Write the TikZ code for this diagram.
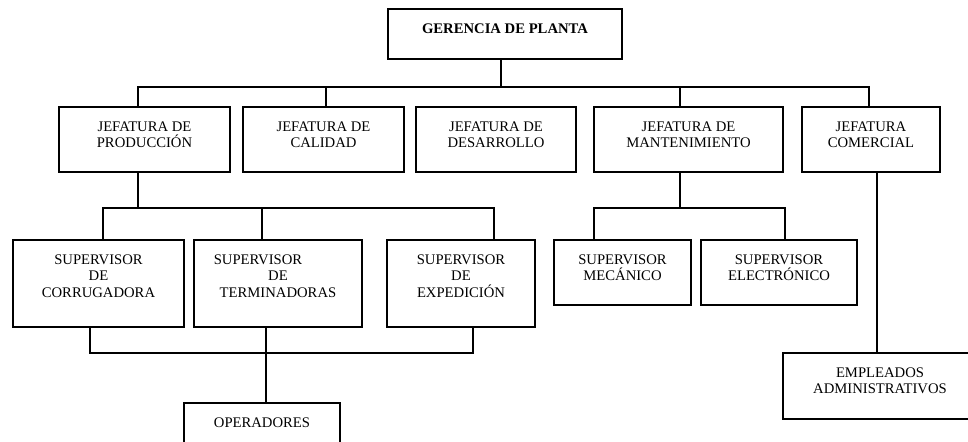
\documentclass[tikz,border=0pt]{standalone}
\usepackage{fontspec}
\setmainfont{Liberation Serif}
\begin{document}
\begin{tikzpicture}[x=0.75pt, y=-0.75pt, line join=miter, font=\fontsize{11}{12.5}\selectfont,
	caja/.style={draw, line width=0.9pt, inner sep=0pt, align=center},
	linea/.style={line width=0.9pt}]

	% Marco de la figura (968 x 442 px)
	\useasboundingbox (0,0) rectangle (968,442);
	\clip (0,0) rectangle (968,442);

	% Gerencia
	\node[caja, font=\fontsize{11}{12.5}\selectfont\bfseries, minimum width=175.5pt, minimum height=37.5pt, text height=18.2pt, text depth=19.3pt] (ger) at (505,34) {GERENCIA DE PLANTA};

	% Jefaturas
	\node[caja, minimum width=128.25pt, minimum height=48.75pt, text height=30.7pt, text depth=18.05pt] (jprod) at (144.5,139.5) {JEFATURA DE\\PRODUCCIÓN};
	\node[caja, minimum width=120.75pt, minimum height=48.75pt, text height=30.7pt, text depth=18.05pt] (jcal) at (323.5,139.5) {JEFATURA DE\\CALIDAD};
	\node[caja, minimum width=120pt, minimum height=48.75pt, text height=30.7pt, text depth=18.05pt] (jdes) at (496,139.5) {JEFATURA DE\\DESARROLLO};
	\node[caja, minimum width=141.75pt, minimum height=48.75pt, text height=30.7pt, text depth=18.05pt] (jman) at (688.5,139.5) {JEFATURA DE\\MANTENIMIENTO};
	\node[caja, minimum width=103.5pt, minimum height=48.75pt, text height=30.7pt, text depth=18.05pt] (jcom) at (871,139.5) {JEFATURA\\COMERCIAL};

	% Supervisores
	\node[caja, minimum width=128.25pt, minimum height=65.25pt, text height=43.2pt, text depth=22.05pt] (scor) at (98.5,283.5) {SUPERVISOR\\DE\\CORRUGADORA};
	\node[caja, minimum width=126pt, minimum height=65.25pt, text height=43.2pt, text depth=22.05pt] (ster) at (278,283.5) {SUPERVISOR\hspace*{30pt}\\DE\\TERMINADORAS};
	\node[caja, minimum width=111pt, minimum height=65.25pt, text height=43.2pt, text depth=22.05pt] (sexp) at (461,283.5) {SUPERVISOR\\DE\\EXPEDICIÓN};
	\node[caja, minimum width=102.75pt, minimum height=48.75pt, text height=30.7pt, text depth=18.05pt] (smec) at (622.5,272.5) {SUPERVISOR\\MECÁNICO};
	\node[caja, minimum width=117pt, minimum height=48.75pt, text height=30.7pt, text depth=18.05pt] (sele) at (779,272.5) {SUPERVISOR\\ELECTRÓNICO};

	% Operadores y empleados
	\node[caja, minimum width=117pt, minimum height=45pt, text height=18.2pt, text depth=26.8pt] (oper) at (262,433) {OPERADORES};
	\node[caja, minimum width=145.5pt, minimum height=49.5pt, text height=30.7pt, text depth=18.8pt] (empl) at (880,386) {EMPLEADOS\\ADMINISTRATIVOS};

	% Puntos de las barras
	\coordinate (b1) at (138,87);
	\coordinate (b2) at (869,87);
	\coordinate (b3) at (103,208);
	\coordinate (b4) at (494,208);
	\coordinate (b5) at (90,353);
	\coordinate (b6) at (266,353);
	\coordinate (b7) at (473,353);
	\coordinate (b8) at (594,208);
	\coordinate (b9) at (785,208);

	% Conectores del primer nivel
	\draw[linea] ([xshift=-3pt]ger.south) -- ([xshift=-3pt]ger.south |- b1);
	\draw[linea] (jprod.north -| b1) -- (b1) -- (b2) -- (jcom.north -| b2);
	\draw[linea] ([xshift=1.875pt]jcal.north) -- ([xshift=1.875pt]jcal.north |- b1);
	\draw[linea] ([xshift=-6.4pt]jman.north) -- ([xshift=-6.4pt]jman.north |- b1);

	% Produccion
	\draw[linea] (jprod.south -| b1) -- (b1 |- b3);
	\draw[linea] (scor.north -| b3) -- (b3) -- (b4) -- (sexp.north -| b4);
	\draw[linea] ([xshift=-12pt]ster.north) -- ([xshift=-12pt]ster.north |- b3);
	\draw[linea] (scor.south -| b5) -- (b5) -- (b7) -- (sexp.south -| b7);
	\draw[linea] (ster.south -| b6) -- (oper.north -| b6);

	% Mantenimiento
	\draw[linea] ([xshift=-6.4pt]jman.south) -- ([xshift=-6.4pt]jman.south |- b8);
	\draw[linea] (smec.north -| b8) -- (b8) -- (b9) -- (sele.north -| b9);

	% Comercial
	\draw[linea] ([xshift=4.5pt]jcom.south) -- ([xshift=4.5pt]jcom.south |- empl.north);

\end{tikzpicture}
\end{document}
